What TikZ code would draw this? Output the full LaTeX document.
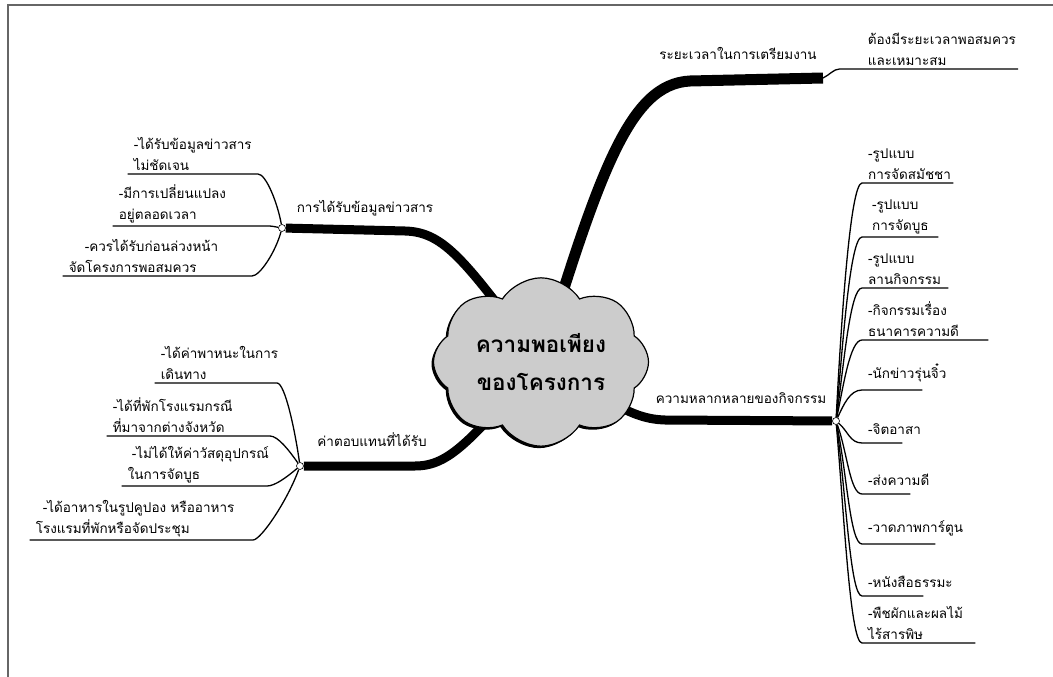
\documentclass[tikz,border=0pt]{standalone}
\usepackage{fontspec}
\newfontfamily\thai[Script=Thai]{Loma}
\usetikzlibrary{shapes,shadows,backgrounds,positioning}
\newcommand\leaffont{\thai\fontsize{13.5}{21}\selectfont\exhyphenpenalty=10000 \hyphenpenalty=10000 \relax}

\begin{document}
\begin{tikzpicture}[x=1pt,y=1pt,
  core/.style={cloud,cloud puffs=8,cloud puff arc=115,aspect=1.4,draw,line width=1.2pt,fill=black!20,
    minimum width=215pt,minimum height=155pt,align=center,
    font=\thai\bfseries\fontsize{22.5}{38}\selectfont,
    drop shadow={shadow xshift=-2pt,shadow yshift=-2pt,fill=black,opacity=1}},
  bough/.style={line width=9pt,line cap=butt},
  twig/.style={line width=1.3pt},
  knot/.style={circle,draw,fill=white,line width=.6pt,inner sep=0pt,minimum size=7pt},
  topic/.style={font=\thai\fontsize{13.5}{21}\selectfont},
  leaf/.style={font=\leaffont,align=left,text width=#1,inner xsep=6pt,inner ysep=3pt},
  solo/.style={inner ysep=8pt}]

\useasboundingbox (0,0) rectangle (1053,-677);
\draw[black!60,line width=1.5pt] (8,-677) -- (8,-5) -- (1053,-5);

\node[core] (core) at (541,-362) {ความพอเพียง\\ของโครงการ};

\node[knot] (info) at (282,-228) {};
\node[knot] (pay) at (300,-466) {};
\node[knot] (variety) at (836,-421) {};
\coordinate (time) at (823,-78);

\node[topic] at (365,-208) {การได้รับข้อมูลข่าวสาร};
\node[topic] at (372,-440) {ค่าตอบแทนที่ได้รับ};
\node[topic] at (738,-53) {ระยะเวลาในการเตรียมงาน};
\node[topic] at (741,-398) {ความหลากหลายของกิจกรรม};

\node[leaf=118pt,anchor=south east] (info1) at (258,-174) {-ได้รับข้อมูลข่าวสาร\\ไม่ชัดเจน};
\node[leaf=143pt,anchor=south east] (info2) at (268,-226) {-มีการเปลี่ยนแปลง\\อยู่ตลอดเวลา};
\node[leaf=177pt,anchor=south east] (info3) at (252,-276) {\hspace*{16pt}-ควรได้รับก่อนล่วงหน้า\\จัดโครงการพอสมควร};

\node[leaf=110pt,anchor=south east] (pay1) at (277,-383) {-ได้ค่าพาหนะในการ\\เดินทาง};
\node[leaf=151pt,anchor=south east] (pay2) at (270,-436) {-ได้ที่พักโรงแรมกรณี\\ที่มาจากต่างจังหวัด};
\node[leaf=133pt,anchor=south east] (pay3) at (267,-486) {\hspace*{4pt}-ไม่ได้ให้ค่าวัสดุอุปกรณ์\\ในการจัดบูธ};
\node[leaf=211pt,anchor=south east] (pay4) at (253,-540) {\hspace*{7pt}-ได้อาหารในรูปคูปอง หรืออาหาร\\โรงแรมที่พักหรือจัดประชุม};

\node[leaf=148pt,anchor=south east,inner xsep=2pt] (due) at (1018,-69) {ต้องมีระยะเวลาพอสมควร\\และเหมาะสม};

\node[leaf=79pt,anchor=south west] (act1) at (862,-183) {-รูปแบบ\\การจัดสมัชชา};
\node[leaf=64pt,anchor=south west] (act2) at (862,-237) {\hspace*{4pt}-รูปแบบ\\\hspace*{4pt}การจัดบูธ};
\node[leaf=74pt,anchor=south west] (act3) at (862,-288) {-รูปแบบ\\ลานกิจกรรม};
\node[leaf=114pt,anchor=south west] (act4) at (862,-340) {-กิจกรรมเรื่อง\\ธนาคารความดี};
\node[leaf=48pt,solo,anchor=south west] (act5) at (862,-390) {-นักข่าวรุ่นจิ๋ว};
\node[leaf=28pt,solo,anchor=south west] (act6) at (862,-443) {-จิตอาสา};
\node[leaf=36pt,solo,anchor=south west] (act7) at (862,-494) {-ส่งความดี};
\node[leaf=61pt,solo,anchor=south west] (act8) at (862,-544) {-วาดภาพการ์ตูน};
\node[leaf=49pt,solo,anchor=south west] (act9) at (862,-596) {-หนังสือธรรมะ};
\node[leaf=101pt,anchor=south west] (act10) at (862,-643) {-พืชผักและผลไม้\\ไร้สารพิษ};

\begin{scope}[on background layer]
\draw[bough] (info) -- (405,-231) .. controls (445,-232) and (466,-262) .. (core.center);
\draw[bough] (pay) -- (415,-466) .. controls (450,-466) and (470,-440) .. (core.center);
\draw[bough,line width=11pt] (time) -- (690,-81) .. controls (630,-84) and (600,-170) .. (core.center);
\draw[bough] (variety) -- (665,-420) .. controls (630,-419) and (610,-400) .. (core.center);

\draw[twig] (info) to[out=100,in=0,in distance=8] (info1.south east) -- (info1.south west);
\draw[twig] (info) to[out=170,in=0] (info2.south east) -- (info2.south west);
\draw[twig] (info) to[out=-105,in=0,in distance=8] (info3.south east) -- (info3.south west);

\draw[twig] (pay) to[out=98,in=0,in distance=8] (pay1.south east) -- (pay1.south west);
\draw[twig] (pay) to[out=125,in=0,in distance=8] (pay2.south east) -- (pay2.south west);
\draw[twig] (pay) to[out=-140,in=0,in distance=8] (pay3.south east) -- (pay3.south west);
\draw[twig] (pay) to[out=-110,in=0,in distance=8] (pay4.south east) -- (pay4.south west);

\draw[twig] (time) to[out=25,in=180,in distance=6] ([xshift=-26pt]due.south west) -- (due.south east);

\draw[twig] (variety) to[out=87,in=180,in distance=12] (act1.south west) -- (act1.south east);
\draw[twig] (variety) to[out=85,in=180,in distance=12] (act2.south west) -- (act2.south east);
\draw[twig] (variety) to[out=82,in=180,in distance=12] (act3.south west) -- (act3.south east);
\draw[twig] (variety) to[out=78,in=180,in distance=12] (act4.south west) -- (act4.south east);
\draw[twig] (variety) to[out=65,in=180,in distance=12] (act5.south west) -- (act5.south east);
\draw[twig] (variety) to[out=-40,in=180,in distance=12] (act6.south west) -- (act6.south east);
\draw[twig] (variety) to[out=-70,in=180,in distance=12] (act7.south west) -- (act7.south east);
\draw[twig] (variety) to[out=-78,in=180,in distance=12] (act8.south west) -- (act8.south east);
\draw[twig] (variety) to[out=-82,in=180,in distance=12] (act9.south west) -- (act9.south east);
\draw[twig] (variety) to[out=-85,in=180,in distance=12] (act10.south west) -- (act10.south east);
\end{scope}
\end{tikzpicture}
\end{document}
